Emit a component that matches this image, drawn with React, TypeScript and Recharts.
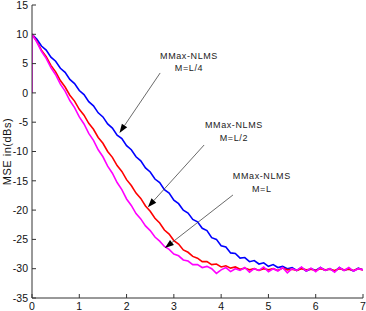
import { LineChart, Line, XAxis, YAxis, ReferenceLine, ReferenceDot } from "recharts";

// sample instants (x axis), shared by all three curves
const timeAxis = [
  0, 0.1, 0.2, 0.3, 0.4, 0.5, 0.6, 0.7, 0.8, 0.9,
  1, 1.1, 1.2, 1.3, 1.4, 1.5, 1.6, 1.7, 1.8, 1.9,
  2, 2.1, 2.2, 2.3, 2.4, 2.5, 2.6, 2.7, 2.8, 2.9,
  3, 3.1, 3.2, 3.3, 3.4, 3.5, 3.6, 3.7, 3.8, 3.9,
  4, 4.1, 4.2, 4.3, 4.4, 4.5, 4.6, 4.7, 4.8, 4.9,
  5, 5.1, 5.2, 5.3, 5.4, 5.5, 5.6, 5.7, 5.8, 5.9,
  6, 6.1, 6.2, 6.3, 6.4, 6.5, 6.6, 6.7, 6.8, 6.9,
  7,
];

// MMax-NLMS, M=L/4 (blue)
const mseQuarter = [
  10.0, 9.2, 8.0, 7.3, 6.1, 5.4, 4.2, 3.5, 2.3, 1.6,
  0.4, -0.3, -1.5, -2.2, -3.4, -4.1, -5.3, -6.0, -7.2, -7.8,
  -9.0, -9.7, -10.9, -11.6, -12.8, -13.5, -14.7, -15.3, -16.5, -17.1,
  -18.3, -18.9, -20.0, -20.5, -21.6, -22.0, -23.1, -23.5, -24.7, -25.0,
  -26.1, -26.3, -27.3, -27.4, -28.2, -28.1, -28.8, -28.6, -29.2, -29.0,
  -29.6, -29.3, -29.8, -29.6, -30.0, -29.8, -30.3, -29.8, -30.4, -30.0,
  -30.3, -29.8, -30.3, -30.0, -30.5, -29.8, -30.3, -30.0, -30.4, -29.9,
  -30.2,
];

// MMax-NLMS, M=L/2 (red)
const mseHalf = [
  10.0, 8.8, 7.3, 6.2, 4.7, 3.6, 2.1, 1.0, -0.4, -1.4,
  -2.8, -3.8, -5.2, -6.2, -7.6, -8.6, -10.0, -11.0, -12.4, -13.4,
  -14.8, -15.8, -17.1, -18.0, -19.3, -20.2, -21.4, -22.2, -23.4, -24.1,
  -25.2, -25.8, -26.8, -27.2, -27.9, -28.2, -28.8, -28.8, -29.3, -29.2,
  -29.7, -29.5, -29.9, -29.7, -30.1, -29.9, -30.2, -30.0, -30.3, -30.0,
  -30.2, -30.0, -30.3, -29.9, -30.2, -30.1, -30.3, -30.0, -30.2, -30.1,
  -30.3, -30.0, -30.2, -30.1, -30.3, -30.0, -30.2, -30.1, -30.3, -30.0,
  -30.2,
];

// MMax-NLMS, M=L (magenta); the first sample sits at 0 dB before the jump
const mseFullStart = 0;
const mseFull = [
  10.0, 8.7, 7.1, 5.9, 4.3, 3.1, 1.5, 0.3, -1.3, -2.5,
  -4.1, -5.3, -6.9, -8.1, -9.7, -10.9, -12.5, -13.7, -15.3, -16.5,
  -18.1, -19.2, -20.6, -21.5, -22.7, -23.5, -24.6, -25.3, -26.2, -26.7,
  -27.5, -27.8, -28.5, -28.7, -29.3, -29.3, -29.8, -29.6, -30.0, -30.8,
  -30.2, -29.8, -30.5, -30.0, -30.3, -29.8, -30.6, -30.0, -30.3, -29.7,
  -30.5, -30.0, -30.4, -29.8, -30.7, -30.0, -30.3, -29.7, -30.4, -29.9,
  -30.5, -29.8, -30.3, -30.0, -30.6, -29.8, -30.3, -29.8, -30.4, -30.0,
  -30.2,
];

const xTicks = [0, 1, 2, 3, 4, 5, 6, 7];
const yTicks = [-35, -30, -25, -20, -15, -10, -5, 0, 5, 10, 15];

// annotation text and where it sits / points to, in data units
const annotationTitles = ["MMax-NLMS", "MMax-NLMS", "MMax-NLMS"];
const annotationModes = ["M=L/4", "M=L/2", "M=L"];
const labelAt = [
  { x: 3.32, y: 6.35 },
  { x: 4.27, y: -5.48 },
  { x: 4.86, y: -14.18 },
];
const arrowFrom = [
  { x: 2.71, y: 3.4 },
  { x: 3.64, y: -8.89 },
  { x: 4.25, y: -17.42 },
];
const arrowTo = [
  { x: 1.85, y: -6.84 },
  { x: 2.45, y: -19.5 },
  { x: 2.81, y: -26.47 },
];

const quarterData = timeAxis.map((t, i) => ({ t, mse: mseQuarter[i] }));
const halfData = timeAxis.map((t, i) => ({ t, mse: mseHalf[i] }));
const fullData = [{ t: 0, mse: mseFullStart }, ...timeAxis.map((t, i) => ({ t, mse: mseFull[i] }))];

const FONT = "'Liberation Sans', Arial, sans-serif";
const AXIS = "#333";
const tickStyle = { fontSize: 10.5, fill: "#111", fontFamily: FONT };

function Arrow(props: any) {
  const { x1, y1, x2, y2 } = props;
  const ang = Math.atan2(y2 - y1, x2 - x1);
  const len = 9;
  const half = 3.2;
  const bx = x2 - len * Math.cos(ang);
  const by = y2 - len * Math.sin(ang);
  const px = -Math.sin(ang) * half;
  const py = Math.cos(ang) * half;
  return (
    <g>
      <line x1={x1} y1={y1} x2={bx} y2={by} stroke="#444" strokeWidth={0.8} />
      <polygon points={`${x2},${y2} ${bx + px},${by + py} ${bx - px},${by - py}`} fill="#000" />
    </g>
  );
}

const noteShape = (i: number) => (p: any) => (
  <text
    x={p.cx}
    y={p.cy}
    textAnchor="middle"
    fontFamily={FONT}
    fontSize={9}
    letterSpacing={0.6}
    fill="#222"
  >
    <tspan x={p.cx} dy="0.35em">{annotationTitles[i]}</tspan>
    <tspan x={p.cx} dy={12.6}>{annotationModes[i]}</tspan>
  </text>
);

const YTitle = (props: any) => {
  const { x, y, height } = props.viewBox;
  const cx = x + 3;
  const cy = y + height / 2;
  return (
    <text
      x={cx}
      y={cy}
      transform={`rotate(-90 ${cx} ${cy})`}
      textAnchor="middle"
      dominantBaseline="central"
      fontFamily={FONT}
      fontSize={11}
      letterSpacing={0.5}
      fill="#111"
    >
      MSE in(dBs)
    </text>
  );
};

export default function App() {
  return (
    <div>
      <style>{"body{margin:0;background:#fff}"}</style>
      <LineChart width={366} height={311} margin={{ top: 5, right: 3, bottom: 0, left: 4 }}>
        <XAxis
          xAxisId={0}
          dataKey="t"
          type="number"
          domain={[0, 7]}
          ticks={xTicks}
          height={13}
          tick={tickStyle}
          tickSize={-4}
          tickMargin={9}
          stroke={AXIS}
          allowDataOverflow
        />
        <XAxis
          xAxisId="top"
          orientation="top"
          type="number"
          domain={[0, 7]}
          ticks={xTicks}
          height={0}
          tickFormatter={() => ""}
          tickSize={-4}
          stroke={AXIS}
        />
        <YAxis
          yAxisId={0}
          type="number"
          domain={[-35, 15]}
          ticks={yTicks}
          width={28}
          tick={tickStyle}
          tickSize={-4}
          tickMargin={8}
          stroke={AXIS}
          allowDataOverflow
          label={{ content: <YTitle /> }}
        />
        <YAxis
          yAxisId="right"
          orientation="right"
          type="number"
          domain={[-35, 15]}
          ticks={yTicks}
          width={0}
          tickFormatter={() => ""}
          tickSize={-4}
          stroke={AXIS}
        />
        <Line data={quarterData} dataKey="mse" stroke="#0000ff" strokeWidth={1.6} dot={false} isAnimationActive={false} />
        <Line data={halfData} dataKey="mse" stroke="#ff0000" strokeWidth={1.6} dot={false} isAnimationActive={false} />
        <Line data={fullData} dataKey="mse" stroke="#ff00ff" strokeWidth={1.6} dot={false} isAnimationActive={false} />
        {arrowFrom.map((from, i) => (
          <ReferenceLine key={`a${i}`} segment={[from, arrowTo[i]]} shape={Arrow} />
        ))}
        {labelAt.map((pos, i) => (
          <ReferenceDot key={`n${i}`} x={pos.x} y={pos.y} r={0} shape={noteShape(i)} />
        ))}
      </LineChart>
    </div>
  );
}
